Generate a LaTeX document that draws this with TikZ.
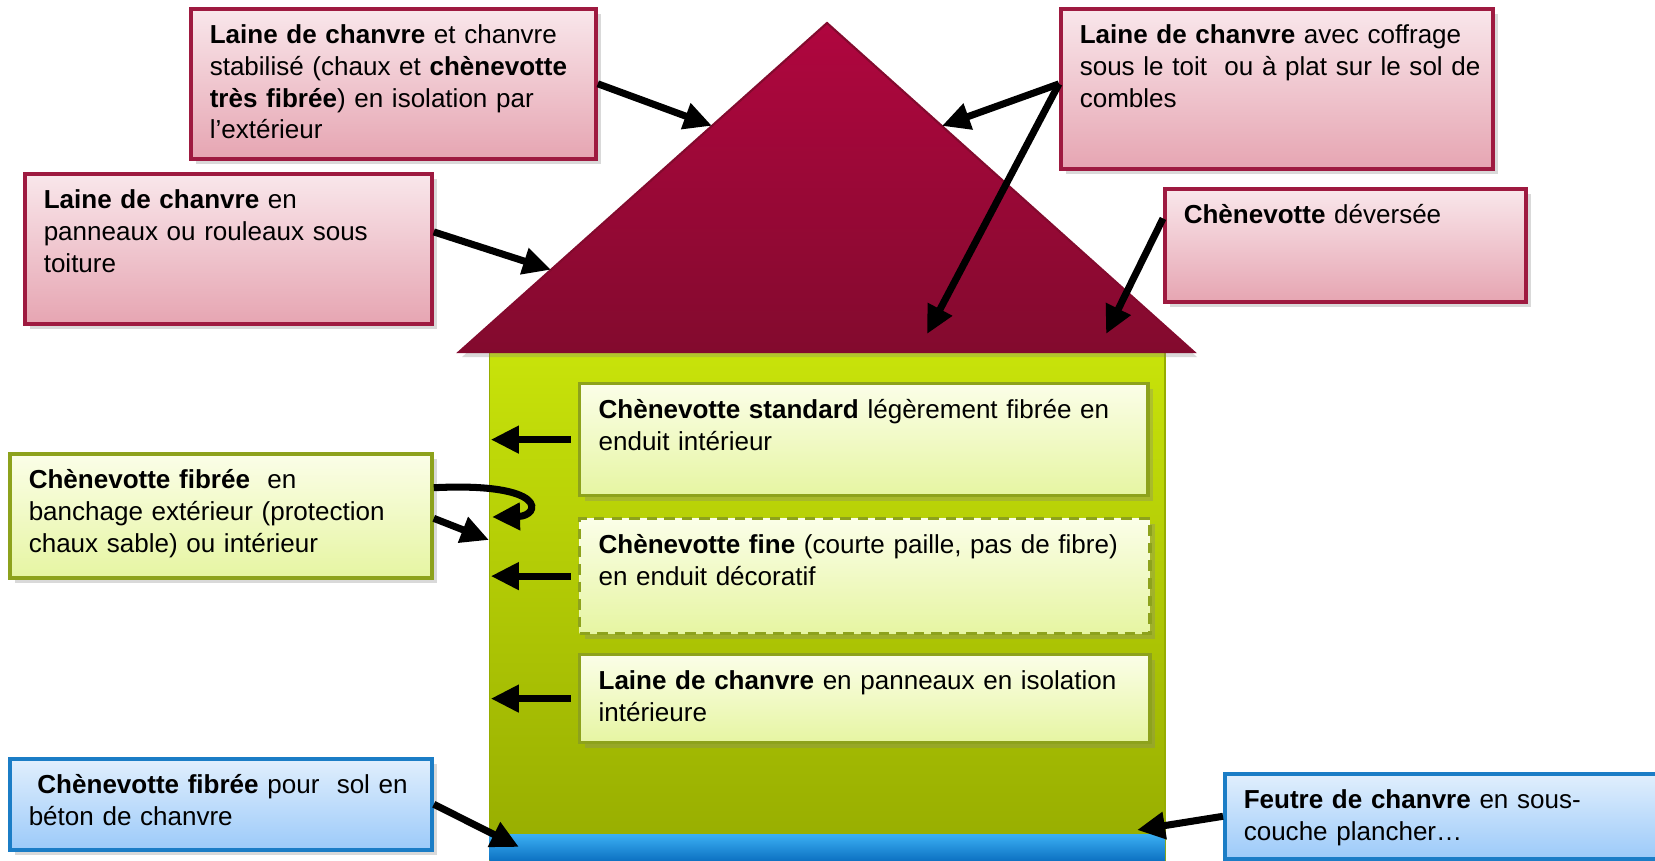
\documentclass[tikz,border=0pt]{standalone}
\usepackage{fontspec}
\setmainfont{Liberation Sans}
\usetikzlibrary{shapes,arrows.meta,positioning,calc,shadows}

\definecolor{roofTop}{HTML}{B0063F}
\definecolor{roofBot}{HTML}{830A2E}
\definecolor{wallTop}{HTML}{C8E30A}
\definecolor{wallBot}{HTML}{96AC00}
\definecolor{floorTop}{HTML}{3AAEF2}
\definecolor{floorBot}{HTML}{0B6FC0}
\definecolor{redLine}{HTML}{9E1A40}
\definecolor{redTop}{HTML}{F9E7EB}
\definecolor{redBot}{HTML}{E6A5B2}
\definecolor{greenLine}{HTML}{8DA21C}
\definecolor{greenTop}{HTML}{FBFEE8}
\definecolor{greenBot}{HTML}{E6F5A2}
\definecolor{blueLine}{HTML}{1B7DC6}
\definecolor{blueTop}{HTML}{E1EFFD}
\definecolor{blueBot}{HTML}{9CCAF9}

\begin{document}
\begin{tikzpicture}[
    x=0.01cm, y=-0.01cm,
    every node/.style={font=\fontsize{7.4}{9}\selectfont},
    box/.style={rectangle, draw, line width=1pt, anchor=north west, align=left, inner xsep=0.19cm, inner ysep=0.18cm, text height=0.17cm,
        drop shadow={shadow xshift=0.05cm, shadow yshift=-0.05cm, opacity=0.3}},
    boxsize/.style 2 args={text width=#1cm-0.38cm, text depth=#2cm-0.53cm},
    redbox/.style={box, draw=redLine, top color=redTop, bottom color=redBot},
    greenbox/.style={box, draw=greenLine, top color=greenTop, bottom color=greenBot},
    bluebox/.style={box, draw=blueLine, top color=blueTop, bottom color=blueBot},
    innerbox/.style={greenbox, line width=0.9pt},
    arrow/.style={-{Triangle[length=0.28cm,width=0.26cm]}, line width=2pt}
]
\useasboundingbox (0,0) rectangle (1655,861);

% House
\node[rectangle, anchor=north west, inner sep=0pt, minimum width=6.75cm, minimum height=5.1cm,
      draw=wallBot, top color=wallTop, bottom color=wallBot] (walls) at (489,351) {};
\node[rectangle, anchor=north west, inner sep=0pt, minimum width=6.75cm, minimum height=0.27cm,
      top color=floorTop, bottom color=floorBot] (floor) at (489,834) {};

\coordinate (apex) at (827,23);
\coordinate (eaveL) at (459,352);
\coordinate (eaveR) at (1194,352);
\fill[top color=roofTop, bottom color=roofBot, draw=roofBot, line width=0.6pt,
      drop shadow={shadow xshift=0.03cm, shadow yshift=-0.05cm, opacity=0.3}]
    (eaveL) -- (apex) -- (eaveR) -- cycle;

% Roof boxes
\node[redbox, boxsize={4.05}{1.50}] (exterieur) at (189,7)
    {\textbf{Laine de chanvre} et chanvre\\stabilisé (chaux et \textbf{chènevotte}\\\textbf{très fibrée}) en isolation par\\l’extérieur};
\node[redbox, boxsize={4.07}{1.50}] (toiture) at (23,172)
    {\textbf{Laine de chanvre} en\\panneaux ou rouleaux sous\\toiture};
\node[redbox, boxsize={4.32}{1.60}] (combles) at (1059,7)
    {\textbf{Laine de chanvre} avec coffrage\\\mbox{sous le toit~ ou à plat sur le sol de}\\combles};
\node[redbox, boxsize={3.61}{1.13}] (deversee) at (1163,187)
    {\textbf{Chènevotte} déversée};

% Wall boxes
\node[innerbox, boxsize={5.68}{1.12}] (standard) at (578,382)
    {\textbf{Chènevotte standard} légèrement fibrée en\\enduit intérieur};
\node[innerbox, dash pattern=on 3pt off 2pt, boxsize={5.70}{1.15}] (fine) at (578,517)
    {\textbf{Chènevotte fine} (courte paille, pas de fibre)\\en enduit décoratif};
\node[innerbox, boxsize={5.70}{0.88}] (panneaux) at (578,653)
    {\textbf{Laine de chanvre} en panneaux en isolation\\intérieure};
\node[greenbox, boxsize={4.22}{1.24}] (banchage) at (8,452)
    {\textbf{Chènevotte fibrée}~ en\\banchage extérieur (protection\\chaux sable) ou intérieur};

% Floor boxes
\node[bluebox, boxsize={4.22}{0.91}] (sol) at (8,757)
    {~\textbf{Chènevotte fibrée} pour~ sol en\\béton de chanvre};
\node[bluebox, boxsize={4.42}{0.85}] (feutre) at (1223,772)
    {\textbf{Feutre de chanvre} en sous-\\couche plancher…};

% Arrow targets
\coordinate (roofA) at ($(eaveL)!0.6875!(apex)$);
\coordinate (roofB) at ($(eaveL)!0.25!(apex)$);
\coordinate (roofC) at ($(apex)!0.313!(eaveR)$);
\coordinate (attic1) at (927,334);
\coordinate (attic2) at (1106,334);
\coordinate (floorL) at (519,847);
\coordinate (floorR) at (1137,830);

% Arrows
\draw[arrow] (exterieur.east) -- (roofA);
\draw[arrow] ($(toiture.north east)!0.39!(toiture.south east)$) -- (roofB);
\draw[arrow] ($(combles.north west)!0.47!(combles.south west)$) -- (roofC);
\draw[arrow] ($(combles.north west)!0.47!(combles.south west)$) -- (attic1);
\draw[arrow] ($(deversee.north west)!0.27!(deversee.south west)$) -- (attic2);
\draw[arrow, shorten <=2pt] (standard.west) -- ([xshift=0.5pt]standard.west -| walls.west);
\draw[arrow, shorten <=2pt] (fine.west) -- ([xshift=0.5pt]fine.west -| walls.west);
\draw[arrow, shorten <=2pt] (panneaux.west) -- ([xshift=0.5pt]panneaux.west -| walls.west);
\draw[arrow] ($(banchage.north east)!0.28!(banchage.south east)$)
    .. controls (550,482) and (540,516) .. (492,517);
\draw[arrow] ($(banchage.north east)!0.52!(banchage.south east)$) -- (489,540);
\draw[arrow] (sol.east) -- (floorL);
\draw[arrow] (feutre.west) -- (floorR);

\end{tikzpicture}
\end{document}
